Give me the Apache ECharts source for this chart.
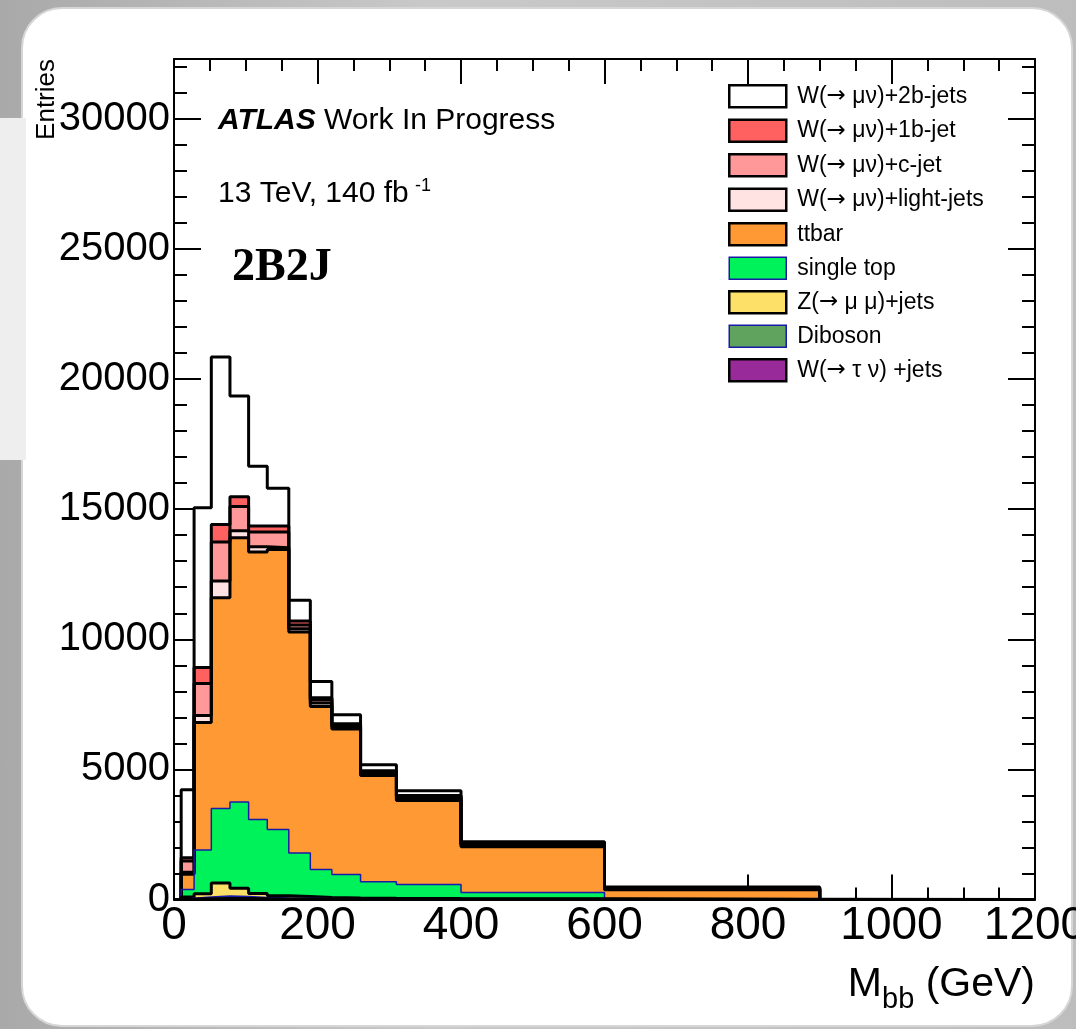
<!DOCTYPE html>
<html>
<head>
<meta charset="utf-8">
<title>Mbb 2B2J</title>
<script src="https://cdn.jsdelivr.net/npm/echarts@6/dist/echarts.min.js"></script>
<style>
    html, body { margin: 0; padding: 0; }
    body { background: linear-gradient(90deg, #a9a9a9 0%, #c9c9c9 40%, #bdbdbd 100%); }
    #chart { width: 1076px; height: 1029px; }
</style>
</head>
<body>
<div id="chart"></div>
<script>
// bin edges in GeV (13 bins)
const binEdges = [10, 28, 52, 78, 104, 130, 160, 190, 220, 260, 310, 400, 600, 900];
const xRange = [0, 1200];
const yRange = [0, 32300];

// entries per bin, stack order from bottom to top
const wTauJets = [20, 30, 40, 40, 30, 20, 20, 20, 10, 10, 10, 5, 2];
const diboson = [30, 70, 90, 80, 50, 40, 30, 20, 20, 10, 10, 10, 3];
const zMuMuJets = [50, 120, 500, 310, 150, 80, 70, 40, 30, 30, 20, 15, 5];
const singleTop = [280, 1680, 2870, 3320, 2840, 2550, 1670, 1070, 900, 630, 540, 240, 20];
const ttbar = [590, 4900, 8100, 10150, 10280, 10760, 8490, 6270, 5590, 4090, 3220, 1760, 340];
const wLight = [80, 270, 640, 270, 210, 70, 120, 130, 100, 80, 100, 60, 30];
const wCJet = [430, 1230, 1500, 930, 560, 600, 150, 130, 50, 50, 50, 30, 20];
const w1bJet = [120, 620, 670, 380, 230, 230, 150, 70, 50, 50, 50, 30, 20];
const w2bJets = [2620, 6130, 6440, 3870, 2300, 1450, 800, 630, 350, 230, 180, 70, 40];

const FONT = 'Liberation Sans';

// bottom -> top
const samples = [
    { name: 'W(→ τ ν) +jets', values: wTauJets, fill: '#992a99', stroke: '#000000', width: 3 },
    { name: 'Diboson', values: diboson, fill: '#5fa35f', stroke: '#1a1aa8', width: 1.5 },
    { name: 'Z(→ μ μ)+jets', values: zMuMuJets, fill: '#fde068', stroke: '#000000', width: 3 },
    { name: 'single top', values: singleTop, fill: '#00f25a', stroke: '#1a1aa8', width: 1.5 },
    { name: 'ttbar', values: ttbar, fill: '#fe9933', stroke: '#000000', width: 3 },
    { name: 'W(→ μν)+light-jets', values: wLight, fill: '#ffe2e2', stroke: '#000000', width: 3 },
    { name: 'W(→ μν)+c-jet', values: wCJet, fill: '#ff9999', stroke: '#000000', width: 3 },
    { name: 'W(→ μν)+1b-jet', values: w1bJet, fill: '#ff6060', stroke: '#000000', width: 3 },
    { name: 'W(→ μν)+2b-jets', values: w2bJets, fill: '#ffffff', stroke: '#000000', width: 3 }
];

/**
 * running sum of the stack, then the outline points of each histogram
 */
function buildStack() {
    const running = binEdges.slice(1).map(() => 0);
    samples.forEach(s => {
        s.tops = s.values.map((v, i) => (running[i] += v));
    });
}

function histPoints(tops) {
    const pts = [[xRange[0], 0]];
    tops.forEach((t, i) => pts.push([binEdges[i], t]));
    pts.push([binEdges[binEdges.length - 1], 0]);
    pts.push([xRange[1], 0]);
    return pts;
}

function makeSeries() {
    // largest cumulative drawn first, like a THStack
    return samples.slice().reverse().map(s => ({
        type: 'line',
        name: s.name,
        step: 'end',
        symbol: 'none',
        silent: true,
        clip: true,
        xAxisIndex: 0,
        yAxisIndex: 0,
        data: histPoints(s.tops),
        itemStyle: { color: s.fill },
        lineStyle: { color: s.stroke, width: s.width },
        areaStyle: { color: s.fill, opacity: 1, origin: 'start' }
    }));
}

function legendData() {
    return samples.slice().reverse().map(s => ({
        name: s.name,
        icon: 'rect',
        itemStyle: { color: s.fill, borderColor: s.stroke, borderWidth: s.width === 3 ? 2.5 : 1.5 }
    }));
}

function xAxisOf(position, withLabels) {
    return {
        type: 'value',
        position: position,
        min: xRange[0],
        max: xRange[1],
        interval: 200,
        splitLine: { show: false },
        axisLine: { show: true, onZero: false, lineStyle: { color: '#000', width: 2 } },
        axisTick: { show: true, inside: true, length: 25, lineStyle: { color: '#000', width: 2 } },
        minorTick: { show: true, splitNumber: 4, length: 12, lineStyle: { color: '#000', width: 2 } },
        axisLabel: {
            show: withLabels, margin: 4, fontSize: 46, fontFamily: FONT, color: '#000',
            formatter: v => String(v)
        },
        name: withLabels ? '{m|M}{s|bb} {m|(GeV)}' : '',
        nameLocation: 'end',
        nameGap: 0,
        nameMoveOverlap: false,
        nameTextStyle: {
            align: 'right',
            verticalAlign: 'top',
            padding: [56, 0, 0, 0],
            fontFamily: FONT,
            fontSize: 41,
            color: '#000',
            rich: {
                m: { fontSize: 41, fontFamily: FONT, color: '#000' },
                s: { fontSize: 29, fontFamily: FONT, color: '#000', padding: [30, 0, 0, 0] }
            }
        }
    };
}

function yAxisOf(position, interval, tickLen, withLabels, withLine) {
    return {
        type: 'value',
        position: position,
        min: yRange[0],
        max: yRange[1],
        interval: interval,
        splitLine: { show: false },
        axisLine: { show: withLine, onZero: false, lineStyle: { color: '#000', width: 2 } },
        axisTick: { show: true, inside: true, length: tickLen, lineStyle: { color: '#000', width: 2 } },
        axisLabel: {
            show: withLabels, showMaxLabel: false, margin: 4, fontSize: 40, fontFamily: FONT, color: '#000',
            formatter: v => String(v)
        },
        name: withLabels ? 'Entries' : '',
        nameLocation: 'end',
        nameRotate: 90,
        nameGap: 0,
        nameMoveOverlap: false,
        nameTextStyle: {
            align: 'right',
            verticalAlign: 'bottom',
            padding: [0, 0, 114, 0],
            fontFamily: FONT,
            fontSize: 26,
            color: '#000'
        }
    };
}

function initChart() {
    buildStack();
    const chart = echarts.init(document.getElementById('chart'), null, { renderer: 'canvas' });
    const option = {
        animation: false,
        textStyle: { fontFamily: FONT },
        grid: { left: 174, right: 41, top: 59, bottom: 129.5, containLabel: false, outerBoundsMode: 'none' },
        xAxis: [xAxisOf('bottom', true), xAxisOf('top', false)],
        yAxis: [
            yAxisOf('left', 5000, 27, true, true),
            yAxisOf('left', 1000, 13, false, false),
            yAxisOf('right', 5000, 27, false, true),
            yAxisOf('right', 1000, 13, false, false)
        ],
        legend: {
            orient: 'vertical',
            left: 728,
            top: 84,
            padding: 0,
            itemWidth: 57,
            itemHeight: 22,
            itemGap: 10,
            selectedMode: false,
            formatter: name => name.replace('→', '{a|→}'),
            textStyle: {
                fontSize: 23, fontFamily: FONT, color: '#000', padding: [0, 0, 0, 6],
                rich: { a: { fontSize: 23, fontFamily: 'DejaVu Sans', color: '#000' } }
            },
            data: legendData()
        },
        graphic: [
            {
                type: 'rect',
                z: -10,
                silent: true,
                shape: { x: 22, y: 8, width: 1050, height: 1018, r: 40 },
                style: { fill: '#ffffff', stroke: '#d6d6d6', lineWidth: 2 }
            },
            {
                // lighter patch on the left margin of the screenshot
                type: 'rect',
                z: -9,
                silent: true,
                shape: { x: 0, y: 118, width: 26, height: 342 },
                style: { fill: '#eeeeee' }
            },
            {
                type: 'text',
                left: 218,
                top: 106,
                style: {
                    text: '{b|ATLAS} Work In Progress',
                    fontSize: 30,
                    fontFamily: FONT,
                    fill: '#000',
                    rich: {
                        b: { fontSize: 30, fontFamily: FONT, fontStyle: 'italic', fontWeight: 'bold', fill: '#000' }
                    }
                }
            },
            {
                type: 'text',
                left: 218,
                top: 179,
                style: { text: '13 TeV, 140 fb', fontSize: 30, fontFamily: FONT, fill: '#000' }
            },
            {
                type: 'text',
                left: 415,
                top: 177,
                style: { text: '-1', fontSize: 18, fontFamily: FONT, fill: '#000' }
            },
            {
                type: 'text',
                left: 232,
                top: 245,
                style: { text: '2B2J', fontSize: 46, fontWeight: 'bold', fontFamily: 'Liberation Serif', fill: '#000' }
            }
        ],
        series: makeSeries()
    };
    chart.setOption(option);
}

document.addEventListener('DOMContentLoaded', function () {
    initChart();
});
</script>
</body>
</html>
